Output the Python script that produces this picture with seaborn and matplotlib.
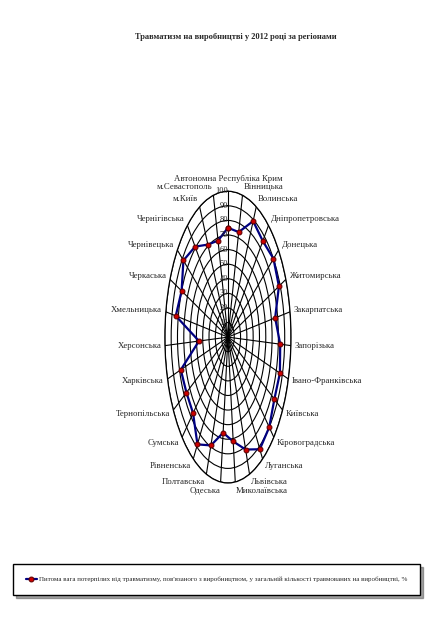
import matplotlib
matplotlib.use("Agg")
import matplotlib.pyplot as plt
import numpy as np
import pandas as pd
import seaborn as sns


REGIONS = [
    "Автономна Республіка Крим", "Вінницька", "Волинська", "Дніпропетровська",
    "Донецька", "Житомирська", "Закарпатська", "Запорізька", "Івано-Франківська",
    "Київська", "Кіровоградська", "Луганська", "Львівська", "Миколаївська",
    "Одеська", "Полтавська", "Рівненська", "Сумська", "Тернопільська",
    "Харківська", "Херсонська", "Хмельницька", "Черкаська", "Чернівецька",
    "Чернігівська", "м.Київ", "м.Севастополь",
]
SHARE = [
    75, 74, 89, 86, 90, 88, 76, 83, 86,
    85, 90, 92, 82, 72, 66, 79, 88, 76,
    76, 78, 46, 84, 80, 88, 81, 71, 68,
]
R_TICKS = [10, 20, 30, 40, 50, 60, 70, 80, 90, 100]

TITLE = "Травматизм на виробництві у 2012 році за регіонами"
SERIES = ("Питома вага потерпілих від травматизму, пов'язаного з виробництвом, "
          "у загальній кількості травмованих на виробництві, %")

FONT = ["Liberation Serif", "DejaVu Serif"]


def main() -> None:
    sns.set_style("white")
    plt.rcParams["font.family"] = FONT

    n = len(REGIONS)
    angles = np.linspace(0, 2 * np.pi, n, endpoint=False)
    df = pd.DataFrame({
        "theta": np.append(angles, 2 * np.pi),
        "value": SHARE + SHARE[:1],
    })

    fig = plt.figure(figsize=(4.35, 6.44), dpi=100)
    ax = fig.add_axes([0.379, 0.25, 0.29, 0.453], projection="polar")
    ax.set_aspect("auto")
    ax.set_theta_zero_location("N")
    ax.set_theta_direction(-1)
    ax.set_ylim(0, 100)

    ax.set_xticks(angles)
    ax.set_xticklabels([])
    ax.set_yticks(R_TICKS)
    ax.set_yticklabels([])
    ax.grid(True, color="black", linewidth=0.8)
    ax.spines["polar"].set_color("black")
    ax.spines["polar"].set_linewidth(0.9)

    sns.lineplot(data=df, x="theta", y="value", sort=False, ax=ax,
                 color="#000080", linewidth=1.6, marker="o", markersize=3.5,
                 markerfacecolor="#cc0000", markeredgecolor="#600000",
                 label=SERIES, legend=False)
    ax.set_xlabel("")
    ax.set_ylabel("")

    for r in R_TICKS:
        ax.text(0, r, str(r), ha="right", va="center", fontsize=6)

    for ang, name in zip(angles, REGIONS):
        s = np.sin(ang)
        if abs(s) < 0.05:
            ha, va = "center", "bottom"
        elif s > 0:
            ha, va = "left", "center"
        else:
            ha, va = "right", "center"
        ax.text(ang, 106, name, ha=ha, va=va, fontsize=6.3, clip_on=False)

    fig.text(0.543, 0.943, TITLE, ha="center", va="center",
             fontsize=6.0, fontweight="bold")

    handles = ax.get_lines()[:1]
    fig.legend(handles, [SERIES], loc="center", mode="expand",
               bbox_to_anchor=(13 / 435, 1 - 597 / 644, 407 / 435, 35 / 644),
               shadow=True, fancybox=False, edgecolor="black",
               fontsize=5.0, handlelength=1.6, handletextpad=0.3,
               borderpad=1.8, borderaxespad=0)

    fig.savefig("out.png", dpi=100)
    plt.close(fig)


if __name__ == "__main__":
    main()
